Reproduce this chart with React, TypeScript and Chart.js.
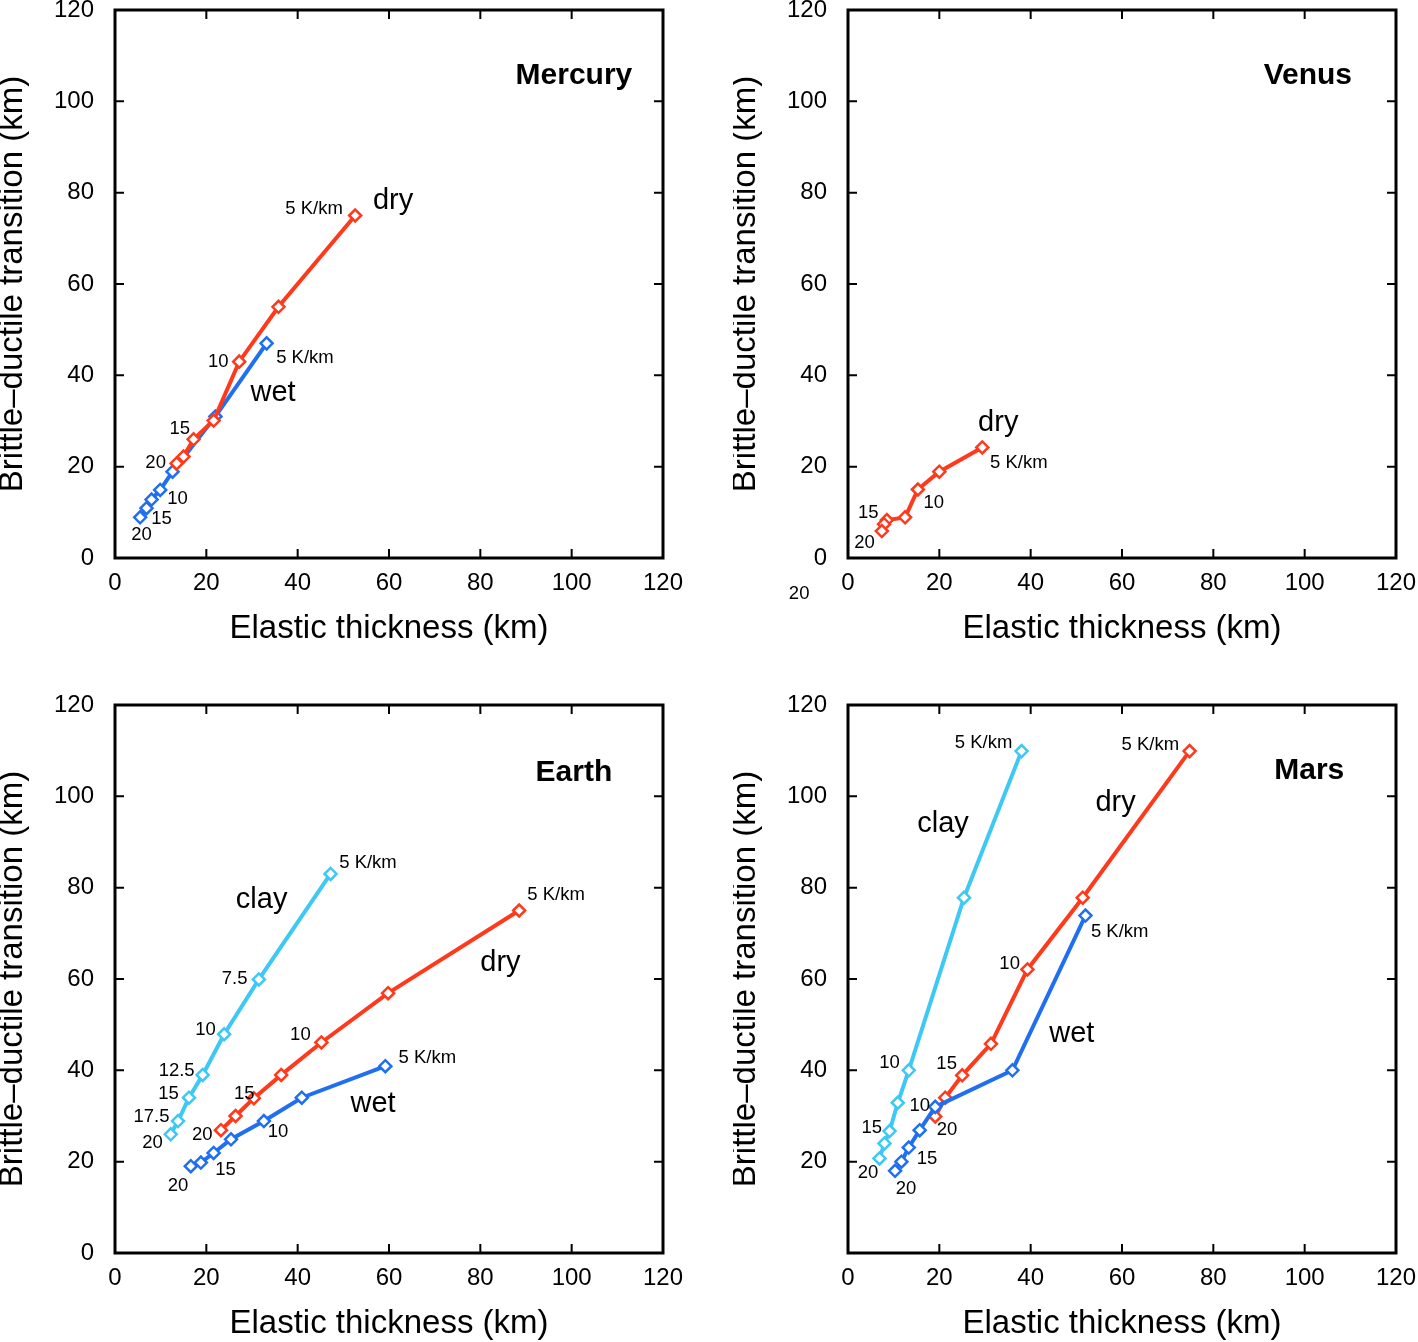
import React, { useEffect, useRef } from "react";
import { Chart, registerables } from "chart.js";

Chart.register(...registerables);

const FONT = "'Liberation Sans', Arial, Helvetica, sans-serif";
const RED = "#ff3a1c";
const BLUE = "#1f6ff0";
const CYAN = "#3ec8f5";

// thermal gradients (K/km) for each marker, in drawing order
const gradients = ["5", "7.5", "10", "12.5", "15", "17.5", "20"];
const axisTicks = [0, 20, 40, 60, 80, 100, 120];

// Mercury
const mercuryDryX = [52.6, 35.8, 27.2, 21.6, 17.2, 15.0, 13.5];
const mercuryDryY = [75.0, 55.0, 43.0, 30.1, 26.0, 22.2, 20.7];
const mercuryWetX = [33.2, 22.0, 12.6, 9.9, 8.0, 6.9, 5.5];
const mercuryWetY = [47.0, 31.0, 18.9, 14.9, 12.8, 10.9, 8.9];

// Venus
const venusDryX = [29.4, 20.0, 15.3, 12.5, 8.5, 7.9, 7.4];
const venusDryY = [24.2, 18.9, 15.0, 8.9, 8.3, 7.4, 5.9];

// Earth
const earthClayX = [47.2, 31.5, 23.9, 19.2, 16.2, 13.8, 12.2];
const earthClayY = [83.0, 59.9, 47.9, 39.0, 34.0, 28.9, 26.0];
const earthDryX = [88.5, 59.8, 45.2, 36.4, 30.4, 26.4, 23.2];
const earthDryY = [75.0, 56.9, 46.1, 39.0, 33.9, 30.0, 26.9];
const earthWetX = [59.2, 40.9, 32.6, 25.4, 21.6, 18.8, 16.6];
const earthWetY = [40.9, 34.0, 28.9, 24.9, 21.9, 19.8, 19.0];

// Mars
const marsClayX = [38.0, 25.4, 13.3, 10.9, 9.1, 8.0, 6.9];
const marsClayY = [109.9, 77.8, 40.0, 32.9, 26.7, 24.0, 20.7];
const marsDryX = [74.8, 51.4, 39.3, 31.3, 25.0, 21.3, 19.1];
const marsDryY = [109.9, 77.8, 62.1, 45.8, 38.9, 34.0, 29.9];
const marsWetX = [52.0, 36.0, 19.1, 15.7, 13.3, 11.7, 10.3];
const marsWetY = [73.9, 40.0, 32.0, 26.9, 23.1, 20.0, 18.0];

type Lbl = { t: string; x: number; y: number; s: number; b?: boolean };

const mercuryLabels: Lbl[] = [
  { t: "Mercury", x: 100.5, y: 105.5, s: 30, b: true },
  { t: "dry", x: 60.9, y: 78.2, s: 29 },
  { t: "5 K/km", x: 43.6, y: 76.4, s: 18.5 },
  { t: "5 K/km", x: 41.6, y: 43.8, s: 18.5 },
  { t: "wet", x: 34.6, y: 36.1, s: 29 },
  { t: "10", x: 22.6, y: 42.9, s: 18.5 },
  { t: "15", x: 14.2, y: 28.2, s: 18.5 },
  { t: "20", x: 8.9, y: 20.8, s: 18.5 },
  { t: "10", x: 13.7, y: 12.9, s: 18.5 },
  { t: "15", x: 10.2, y: 8.5, s: 18.5 },
  { t: "20", x: 5.8, y: 5.0, s: 18.5 },
];
const venusLabels: Lbl[] = [
  { t: "Venus", x: 100.7, y: 105.5, s: 30, b: true },
  { t: "dry", x: 32.9, y: 29.5, s: 29 },
  { t: "5 K/km", x: 37.4, y: 20.9, s: 18.5 },
  { t: "10", x: 18.8, y: 12.0, s: 18.5 },
  { t: "15", x: 4.45, y: 9.9, s: 18.5 },
  { t: "20", x: 3.6, y: 3.2, s: 18.5 },
  { t: "20", x: -10.7, y: -7.95, s: 18.5 },
];
const earthLabels: Lbl[] = [
  { t: "Earth", x: 100.5, y: 105.1, s: 30, b: true },
  { t: "clay", x: 32.1, y: 77.2, s: 29 },
  { t: "5 K/km", x: 55.4, y: 85.4, s: 18.5 },
  { t: "7.5", x: 26.2, y: 60.0, s: 18.5 },
  { t: "10", x: 19.8, y: 48.8, s: 18.5 },
  { t: "12.5", x: 13.5, y: 39.8, s: 18.5 },
  { t: "15", x: 11.7, y: 34.75, s: 18.5 },
  { t: "17.5", x: 8.0, y: 29.7, s: 18.5 },
  { t: "20", x: 8.2, y: 24.0, s: 18.5 },
  { t: "dry", x: 84.4, y: 63.6, s: 29 },
  { t: "5 K/km", x: 96.6, y: 78.5, s: 18.5 },
  { t: "10", x: 40.6, y: 47.65, s: 18.5 },
  { t: "15", x: 28.3, y: 34.75, s: 18.5 },
  { t: "20", x: 19.1, y: 25.8, s: 18.5 },
  { t: "5 K/km", x: 68.4, y: 42.8, s: 18.5 },
  { t: "wet", x: 56.5, y: 32.6, s: 29 },
  { t: "10", x: 35.7, y: 26.5, s: 18.5 },
  { t: "15", x: 24.2, y: 18.2, s: 18.5 },
  { t: "20", x: 13.8, y: 14.6, s: 18.5 },
];
const marsLabels: Lbl[] = [
  { t: "Mars", x: 101, y: 105.6, s: 30, b: true },
  { t: "clay", x: 20.8, y: 94.0, s: 29 },
  { t: "5 K/km", x: 29.7, y: 111.7, s: 18.5 },
  { t: "dry", x: 58.6, y: 98.6, s: 29 },
  { t: "5 K/km", x: 66.2, y: 111.3, s: 18.5 },
  { t: "5 K/km", x: 59.5, y: 70.4, s: 18.5 },
  { t: "wet", x: 49.0, y: 47.9, s: 29 },
  { t: "10", x: 35.4, y: 63.2, s: 18.5 },
  { t: "15", x: 21.6, y: 41.3, s: 18.5 },
  { t: "10", x: 9.1, y: 41.7, s: 18.5 },
  { t: "10", x: 15.7, y: 32.2, s: 18.5 },
  { t: "20", x: 21.7, y: 26.95, s: 18.5 },
  { t: "15", x: 5.2, y: 27.3, s: 18.5 },
  { t: "15", x: 17.3, y: 20.7, s: 18.5 },
  { t: "20", x: 4.4, y: 17.6, s: 18.5 },
  { t: "20", x: 12.7, y: 14.1, s: 18.5 },
];

function pts(xs: number[], ys: number[]) {
  return xs.map((x, i) => ({ x, y: ys[i], g: gradients[i] }));
}

function ds(label: string, xs: number[], ys: number[], color: string) {
  return {
    label,
    data: pts(xs, ys),
    borderColor: color,
    backgroundColor: "#ffffff",
    borderWidth: 4,
    pointStyle: "rectRot",
    pointRadius: 6,
    pointBorderWidth: 2.5,
    pointBackgroundColor: "#ffffff",
    pointBorderColor: color,
    showLine: true,
    fill: false,
    tension: 0,
  };
}

const framePlugin = {
  id: "frame",
  afterDraw(chart: any, _args: any, opts: any) {
    const { ctx, chartArea: a, scales } = chart;
    const x = scales.x;
    const y = scales.y;
    ctx.save();
    ctx.strokeStyle = "#000";
    ctx.lineWidth = 2;
    ctx.beginPath();
    for (const v of axisTicks) {
      if (v <= 0 || v >= 120) continue;
      const px = x.getPixelForValue(v);
      ctx.moveTo(px, a.bottom);
      ctx.lineTo(px, a.bottom - 9);
      ctx.moveTo(px, a.top);
      ctx.lineTo(px, a.top + 9);
      const py = y.getPixelForValue(v);
      ctx.moveTo(a.left, py);
      ctx.lineTo(a.left + 9, py);
      ctx.moveTo(a.right, py);
      ctx.lineTo(a.right - 9, py);
    }
    ctx.stroke();
    ctx.lineWidth = 3;
    ctx.strokeRect(a.left, a.top, a.right - a.left, a.bottom - a.top);
    ctx.fillStyle = "#000";
    ctx.textAlign = "center";
    ctx.textBaseline = "middle";
    for (const l of (opts.labels || []) as Lbl[]) {
      ctx.font = `${l.b ? "bold " : ""}${l.s}px ${FONT}`;
      ctx.fillText(l.t, x.getPixelForValue(l.x), y.getPixelForValue(l.y));
    }
    ctx.restore();
  },
};

type Panel = {
  left: number;
  top: number;
  datasets: any[];
  labels: Lbl[];
  hideZeroY?: boolean;
};

const panels: Panel[] = [
  {
    left: 0,
    top: 0,
    datasets: [
      ds("dry", mercuryDryX, mercuryDryY, RED),
      ds("wet", mercuryWetX, mercuryWetY, BLUE),
    ],
    labels: mercuryLabels,
  },
  {
    left: 733,
    top: 0,
    datasets: [ds("dry", venusDryX, venusDryY, RED)],
    labels: venusLabels,
  },
  {
    left: 0,
    top: 695,
    datasets: [
      ds("clay", earthClayX, earthClayY, CYAN),
      ds("dry", earthDryX, earthDryY, RED),
      ds("wet", earthWetX, earthWetY, BLUE),
    ],
    labels: earthLabels,
  },
  {
    left: 733,
    top: 695,
    datasets: [
      ds("wet", marsWetX, marsWetY, BLUE),
      ds("dry", marsDryX, marsDryY, RED),
      ds("clay", marsClayX, marsClayY, CYAN),
    ],
    labels: marsLabels,
    hideZeroY: true,
  },
];

const CW = 700;
const CH = 680;

function PanelChart({ p }: { p: Panel }) {
  const ref = useRef<HTMLCanvasElement | null>(null);
  useEffect(() => {
    if (!ref.current) return;
    const chart = new Chart(ref.current, {
      type: "scatter",
      data: { datasets: p.datasets },
      plugins: [framePlugin],
      options: {
        animation: false,
        responsive: false,
        devicePixelRatio: 1,
        layout: { padding: { left: 0, top: 10, right: 37, bottom: 0 }, autoPadding: false },
        plugins: {
          legend: { display: false },
          tooltip: { enabled: false },
          frame: { labels: p.labels },
        } as any,
        scales: {
          x: {
            type: "linear",
            position: "bottom",
            min: 0,
            max: 120,
            ticks: {
              stepSize: 20,
              padding: 11,
              color: "#000",
              font: { family: FONT, size: 24 },
              maxRotation: 0,
              autoSkip: false,
            },
            grid: { display: false, drawTicks: false },
            border: { display: false },
            title: {
              display: true,
              text: "Elastic thickness (km)",
              color: "#000",
              font: { family: FONT, size: 33 },
              padding: { top: 0, bottom: 31 },
            },
            afterFit: (s: any) => {
              s.height = CH - 10 - 548;
              s.paddingLeft = 0;
              s.paddingRight = 0;
            },
          },
          y: {
            type: "linear",
            position: "left",
            min: 0,
            max: 120,
            ticks: {
              stepSize: 20,
              padding: 21,
              color: "#000",
              font: { family: FONT, size: 24 },
              callback: (v: any) => (p.hideZeroY && Number(v) === 0 ? "" : String(v)),
            },
            grid: { display: false, drawTicks: false },
            border: { display: false },
            title: {
              display: true,
              text: "Brittle–ductile transition (km)",
              color: "#000",
              font: { family: FONT, size: 33 },
              padding: { top: -7, bottom: 0 },
            },
            afterFit: (s: any) => {
              s.width = 115;
              s.paddingTop = 0;
              s.paddingBottom = 0;
            },
          },
        },
      } as any,
    });
    return () => chart.destroy();
  }, [p]);
  return (
    <canvas
      ref={ref}
      width={CW}
      height={CH}
      style={{ position: "absolute", left: p.left, top: p.top, width: CW, height: CH }}
    />
  );
}

export default function App() {
  return (
    <div
      style={{
        position: "absolute",
        left: 0,
        top: 0,
        width: 1418,
        height: 1342,
        overflow: "hidden",
        background: "#fff",
      }}
    >
      {panels.map((p, i) => (
        <PanelChart key={i} p={p} />
      ))}
    </div>
  );
}
